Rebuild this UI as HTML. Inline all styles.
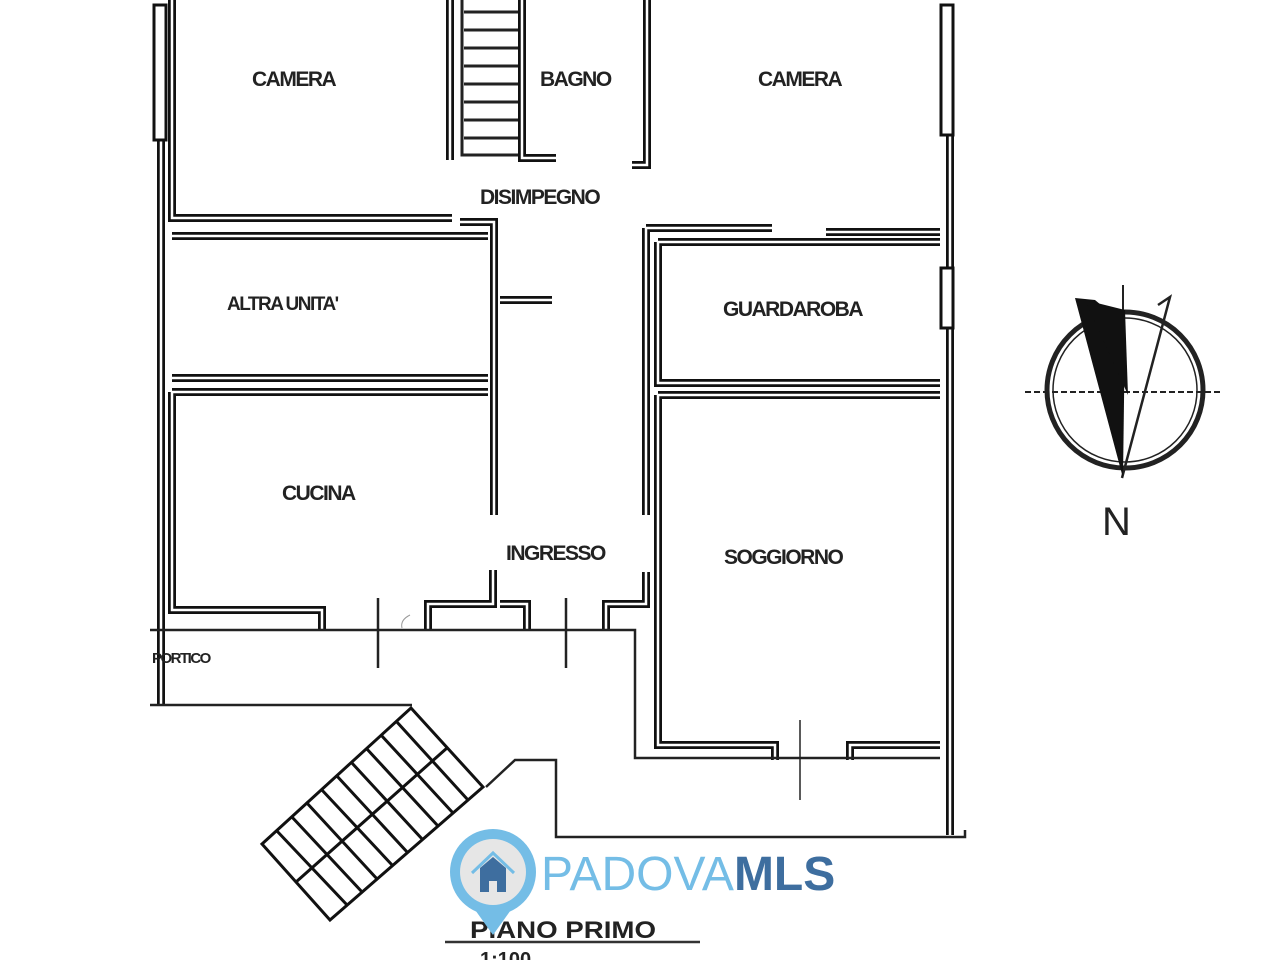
<!DOCTYPE html>
<html><head><meta charset="utf-8"><style>
html,body{margin:0;padding:0;background:#fff;}
svg{display:block}
.lb{font-family:"Liberation Sans",sans-serif;font-weight:bold;fill:#222;}
</style></head><body>
<svg width="1280" height="960" viewBox="0 0 1280 960" xmlns="http://www.w3.org/2000/svg" xmlns:xlink="http://www.w3.org/1999/xlink">
<defs>
<g id="walls">
<path d="M161 140 V705"/>
<path d="M172 0 V218 H452"/>
<path d="M460 222 H494 V515"/>
<path d="M172 236 H488"/>
<path d="M500 300 H552"/>
<path d="M172 378 H488"/>
<path d="M172 392 H488"/>
<path d="M172 392 V610 H322 V630"/>
<path d="M646 228 V515"/>
<path d="M646 228 H772"/>
<path d="M826 232 H940"/>
<path d="M658 242 H940"/>
<path d="M658 242 V383 H940"/>
<path d="M658 395 H940"/>
<path d="M658 395 V745 H775 V760"/>
<path d="M850 760 V745 H940"/>
<path d="M950 135 V268 M950 328 V835"/>
<path d="M646 572 V604 H606 V630"/>
<path d="M493 570 V604 H428 V630"/>
<path d="M500 604 H527 V630"/>
<path d="M450 0 V160 M522 0 V158 H556"/>
<path d="M647 0 V165 H632"/>
</g>
</defs>
<g fill="none">
<use xlink:href="#walls" stroke="#111" stroke-width="8"/>
<use xlink:href="#walls" stroke="#fff" stroke-width="2.5"/>
<rect x="154" y="5" width="12" height="135" stroke="#111" stroke-width="3" fill="#fff"/>
<rect x="941" y="5" width="12" height="130" stroke="#111" stroke-width="3" fill="#fff"/>
<rect x="941" y="268" width="12" height="60" stroke="#111" stroke-width="3" fill="#fff"/>
<g stroke="#222" stroke-width="3">
<path d="M462 0 V155 H518"/>
<path d="M464 12 H518 M464 30 H518 M464 48 H518 M464 66 H518 M464 84 H518 M464 102 H518 M464 120 H518 M464 138 H518"/>
</g>
<g stroke="#222" stroke-width="2.5">
<path d="M150 630 H635 V758 H940"/>
<path d="M150 705 H412"/>
<path d="M378 598 V668 M566 598 V668"/>
<path d="M486 787 L515 760 H556 V837 H965 V830"/>
<path d="M800 720 V800" stroke-width="1.5"/>
<path d="M410 615 Q400 620 402 628" stroke="#999" stroke-width="1"/>
</g>
<g stroke="#111" stroke-width="3">
<path d="M411 708 L483 787 L330 920 L262 844 Z"/>
<path d="M447 748 L296 882"/>
<path d="M396 721 L468 800 M381 735 L453 813 M366 748 L438 826 M351 762 L423 840 M336 775 L408 853 M321 789 L393 866 M306 802 L378 880 M291 816 L363 893 M276 830 L348 906"/>
</g>
<path d="M445 942 H700" stroke="#333" stroke-width="2.5"/>
<g stroke="#222">
<circle cx="1125" cy="390" r="78" stroke-width="5"/>
<circle cx="1125" cy="390" r="72" stroke-width="1.5"/>
<path d="M1025 392 H1222" stroke-width="2" stroke-dasharray="6 3"/>
<path d="M1123 285 V310" stroke-width="2"/>
<path d="M1122 478 L1170 297 L1158 305" stroke-width="2.5"/>
</g>
<path d="M1075 298 L1095 300 L1125 325 L1123 478 Z" fill="#111"/>
<path d="M1085 300 L1125 310 L1128 395 Z" fill="#111"/>
</g>
<g class="lb" font-size="21" letter-spacing="-1.5">
<text x="252" y="86">CAMERA</text>
<text x="540" y="86">BAGNO</text>
<text x="758" y="86">CAMERA</text>
<text x="480" y="204">DISIMPEGNO</text>
<text x="227" y="310" font-size="19">ALTRA UNITA'</text>
<text x="723" y="316">GUARDAROBA</text>
<text x="282" y="500">CUCINA</text>
<text x="506" y="560">INGRESSO</text>
<text x="724" y="564">SOGGIORNO</text>
<text x="152" y="663" font-size="15">PORTICO</text>
<text x="470" y="938" font-size="24" letter-spacing="0" textLength="186" lengthAdjust="spacingAndGlyphs">PIANO PRIMO</text>
<text x="480" y="966" font-size="20" letter-spacing="0">1:100</text>
</g>
<text x="1102" y="535" font-size="40" style="font-family:'Liberation Sans',sans-serif;fill:#222">N</text>
<g>
<path d="M468 900 L493 935 L518 900 Z" fill="#74bde6"/>
<circle cx="493" cy="872" r="43" fill="#74bde6"/>
<circle cx="493" cy="872" r="33" fill="#e6e6e6"/>
<path d="M472 873 L493 853 L514 873" fill="none" stroke="#74bde6" stroke-width="3"/>
<path d="M480 868 L493 857 L506 868 V892 H497 V881 H489 V892 H480 Z" fill="#3e6e9f"/>
<text x="541" y="890" font-size="48" style="font-family:'Liberation Sans',sans-serif;fill:#74bde6">PADOVA<tspan style="fill:#3e6e9f;font-weight:bold">MLS</tspan></text>
</g>
</svg>
</body></html>
